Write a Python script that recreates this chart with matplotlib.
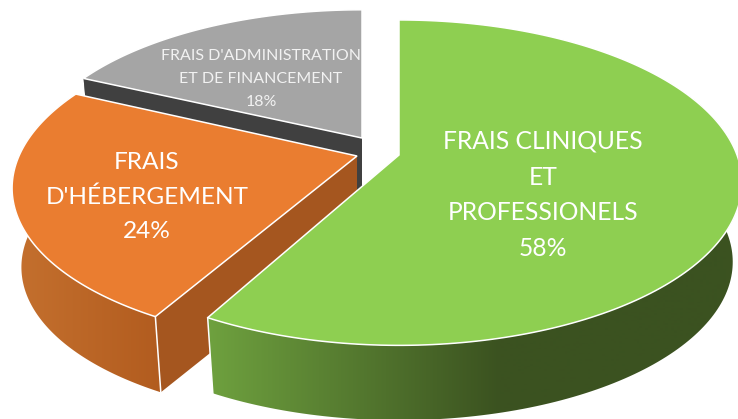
import numpy as np
import matplotlib
matplotlib.use('Agg')
import matplotlib.pyplot as plt
from matplotlib.patches import Polygon
from matplotlib.colors import to_rgb

labels = ["FRAIS CLINIQUES\nET\nPROFESSIONELS\n58%",
          "FRAIS\nD'HÉBERGEMENT\n24%",
          "FRAIS D'ADMINISTRATION\nET DE FINANCEMENT\n18%"]
values = [58, 24, 18]
top_colors = ['#8ecf51', '#ea7d30', '#a5a5a5']
cut_colors = [None, '#a5561f', '#404040']
side_left = ['#6fa23f', '#c4702e', '#808080']
side_right = ['#3b5220', '#b25c1f', '#808080']
side_span = [(205, 500), (15, 160), (80, 360)]

# apex of each slice (exploded pie), pixels
apex = [(399, 155), (357, 156), (362, 138)]
A = [338, 338, 330]
B = [158, 156, 150]
K = 0.17
SKEW = [0, 10, 0]
DROP = 80
SHRINK = 0.973

plt.rcParams['font.family'] = ['Lato', 'DejaVu Sans']


def project(theta, i, low=False):
    # perspective view of a point on the pie rim, theta clockwise from the top
    cx, cy = apex[i]
    u = np.sin(theta)
    v = -np.cos(theta)
    w = 1 - K * v
    s = SHRINK if low else 1.0
    x = cx + s * (A[i] * u - SKEW[i] * v) / w
    y = cy + s * B[i] * v / w + (DROP if low else 0)
    return x, y


def gradient_fill(ax, poly, x0, x1, c0, c1):
    xs = np.arange(0, 739)
    t = np.clip((xs - x0) / (x1 - x0), 0, 1)
    c0, c1 = np.array(to_rgb(c0)), np.array(to_rgb(c1))
    img = (c0[None, :] * (1 - t)[:, None] + c1[None, :] * t[:, None])[None, :, :]
    im = ax.imshow(img, extent=(0, 738, 419, 0), aspect='auto', zorder=poly.get_zorder())
    im.set_clip_path(poly)


fig = plt.figure(figsize=(7.38, 4.19), dpi=100)
ax = fig.add_axes([0, 0, 1, 1])
ax.set_xlim(0, 738)
ax.set_ylim(419, 0)
ax.axis('off')

edges = np.cumsum([0] + values) / sum(values) * 2 * np.pi
# gray at the back, green in front
for i in [2, 1, 0]:
    z = 10 + (2 - i) * 10
    cx, cy = apex[i]
    th = np.linspace(edges[i], edges[i + 1], 200)
    tx, ty = project(th, i)
    bx, by = project(th, i, low=True)

    # rim, only the part facing the viewer
    front = np.cos(th) < 0.45
    if front.any():
        rim = np.column_stack([np.r_[tx[front], bx[front][::-1]], np.r_[ty[front], by[front][::-1]]])
        p = Polygon(rim, closed=True, facecolor='none', edgecolor='none', zorder=z)
        ax.add_patch(p)
        gradient_fill(ax, p, side_span[i][0], side_span[i][1], side_left[i], side_right[i])

    # cut face
    if cut_colors[i] is not None:
        qx = [cx, tx[0], bx[0], cx]
        qy = [cy, ty[0], by[0], cy + DROP]
        ax.add_patch(Polygon(np.column_stack([qx, qy]), closed=True,
                             facecolor=cut_colors[i], edgecolor='none', zorder=z + 1))

    # top face
    ax.add_patch(Polygon(np.column_stack([np.r_[cx, tx], np.r_[cy, ty]]), closed=True,
                         facecolor=top_colors[i], edgecolor='white', linewidth=1.1, zorder=z + 2))
    # white vertical edge at the front corner
    if i < 2:
        k = -1 if i == 0 else 0
        ax.plot([tx[k], bx[k]], [ty[k], by[k]], color='white', lw=1.1, zorder=z + 3)

ax.text(543, 195, labels[0], color='white', fontsize=17.7, ha='center', va='center',
        linespacing=1.67, zorder=50)
ax.text(147, 197, labels[1], color='white', fontsize=17.6, ha='center', va='center',
        linespacing=1.75, zorder=50)
ax.text(261, 79, labels[2], color='#f2f2f2', fontsize=11.5, ha='center', va='center',
        linespacing=1.78, zorder=50)

fig.savefig('out.png', dpi=100)
